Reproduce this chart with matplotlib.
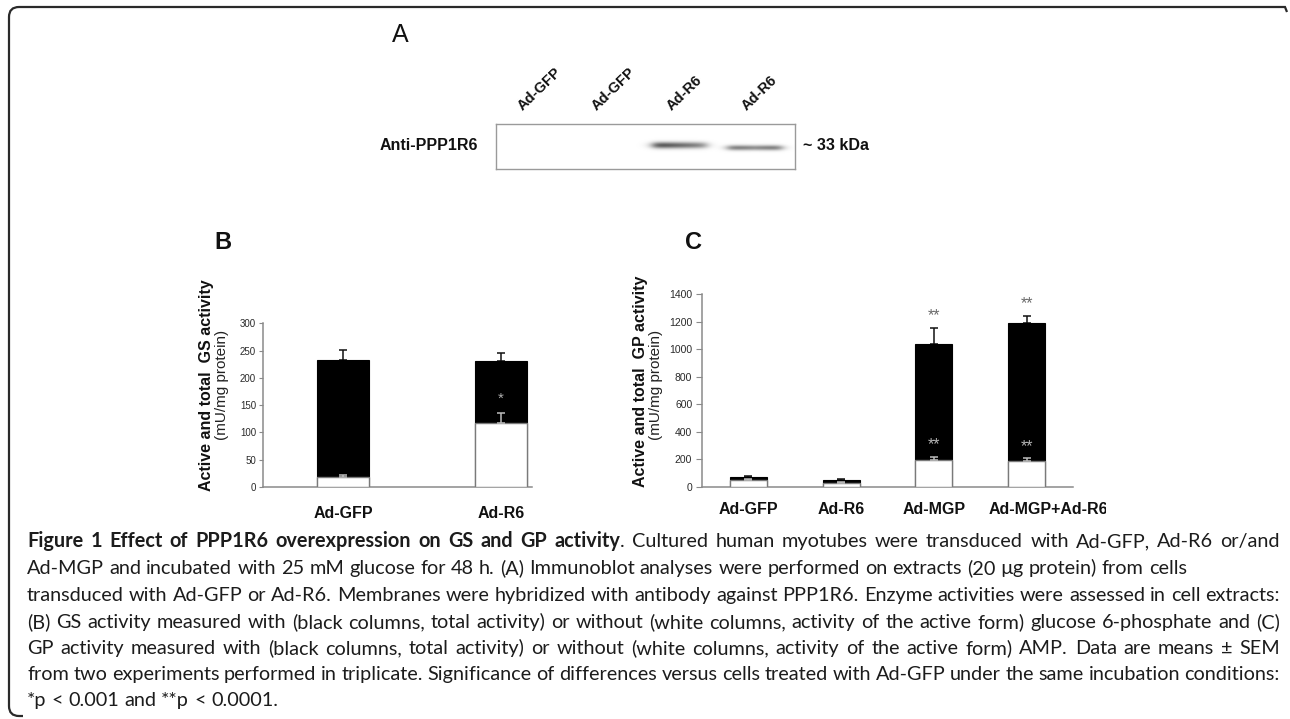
import numpy as np
import matplotlib
matplotlib.use("Agg")
import matplotlib.pyplot as plt
from matplotlib.patches import PathPatch
from matplotlib.path import Path
from matplotlib.transforms import Bbox, TransformedBbox, ScaledTranslation

W, H = 1290, 719
fig = plt.figure(figsize=(W / 100, H / 100), dpi=100)

CHART_FONT = ['Liberation Sans', 'DejaVu Sans']
CAP_FONT = ['Lato', 'DejaVu Sans']

# ---------------- data ----------------
blot_lanes = ["Ad-GFP", "Ad-GFP", "Ad-R6", "Ad-R6"]
blot_intensity = [0.0, 0.0, 0.72, 0.55]

gs_groups = ["Ad-GFP", "Ad-R6"]
gs_total = [232, 231]
gs_total_sem = [19, 15]
gs_active = [18, 118]
gs_active_sem = [4, 18]
gs_active_sig = ["", "*"]

gp_groups = ["Ad-GFP", "Ad-R6", "Ad-MGP", "Ad-MGP+Ad-R6"]
gp_total = [68, 49, 1039, 1194]
gp_total_sem = [8, 6, 114, 48]
gp_active = [49, 29, 194, 189]
gp_active_sem = [6, 5, 24, 17]
gp_total_sig = ["", "", "**", "**"]
gp_active_sig = ["", "", "**", "**"]

gs_yticks = [0, 50, 100, 150, 200, 250, 300]
gp_yticks = [0, 200, 400, 600, 800, 1000, 1200, 1400]


def fx(x):
    return x / W


def fy(y):
    return 1 - y / H


def add_ax(l, t, r, b):
    return fig.add_axes([l / W, 1 - b / H, (r - l) / W, (b - t) / H])


def ptext(x, y, s, **kw):
    kw.setdefault('family', CHART_FONT)
    return fig.text(fx(x), fy(y), s, **kw)


# ---------------- frame ----------------
L, T, R, B = 9, 7, 1287, 716
rad = 10
verts = [(R, T + 5), (R - 2, T), (L + rad, T), (L, T), (L, T + rad),
         (L, B - rad), (L, B), (L + rad, B), (L + 14, B)]
codes = [Path.MOVETO, Path.LINETO, Path.LINETO, Path.CURVE3, Path.CURVE3,
         Path.LINETO, Path.CURVE3, Path.CURVE3, Path.LINETO]
verts_f = [(fx(x), fy(y)) for x, y in verts]
fig.patches.append(PathPatch(Path(verts_f, codes), transform=fig.transFigure,
                             fill=False, edgecolor='#2a2a2a', lw=1.6))

# ---------------- panel A: immunoblot ----------------
ptext(400, 35, "A", fontsize=18, ha='center', va='center', color='#111')
bx0, by0, bx1, by1 = 496, 124, 795, 169
axA = add_ax(bx0, by0, bx1, by1)
lane_w = (bx1 - bx0) / len(blot_lanes)
xx = np.arange(bx0, bx1, 0.5)
yy = np.arange(by0, by1, 0.5)
X, Y = np.meshgrid(xx, yy)
img = np.zeros_like(X)
for i, inten in enumerate(blot_intensity):
    if inten <= 0:
        continue
    cx = bx0 + (i + 0.5) * lane_w - 3
    cy = 145 + (i - 2) * 2.5
    half = 27
    prof_x = 1 / (1 + np.exp(-(X - (cx - half)) / 3.0)) * 1 / (1 + np.exp((X - (cx + half)) / 3.0))
    if i == 2:
        tilt = 1.0 - 0.4 * (X - (cx - half)) / (2 * half)
    else:
        tilt = 0.8 + 0.2 * np.abs(X - cx) / half
    prof_y = np.exp(-((Y - cy) / (3.2 if i == 2 else 2.6)) ** 2)
    img += inten * prof_x * prof_y * tilt
img = np.clip(img, 0, 1)
axA.imshow(1 - img, cmap='gray', vmin=0, vmax=1, extent=(bx0, bx1, by1, by0),
           aspect='auto', interpolation='bilinear')
axA.set_xlim(bx0, bx1)
axA.set_ylim(by1, by0)
axA.set_xticks([])
axA.set_yticks([])
for s in axA.spines.values():
    s.set_color('#9a9a9a')
    s.set_linewidth(1.0)

for i, lab in enumerate(blot_lanes):
    cx = bx0 + (i + 0.5) * lane_w
    ptext(cx - 11, 111, lab, rotation=44, rotation_mode='anchor', ha='left',
          va='baseline', fontsize=10.5, fontweight='bold', color='#111')
ptext(478, 146, "Anti-PPP1R6", ha='right', va='center', fontsize=11.5,
      fontweight='bold', color='#111')
ptext(803, 146, "~ 33 kDa", ha='left', va='center', fontsize=11.5,
      fontweight='bold', color='#111')


# ---------------- bar panels ----------------
def style_axis(ax, ticks, ylim, labsize, tick_len, tick_pad, xpad):
    ax.set_ylim(*ylim)
    ax.set_yticks(ticks)
    for side in ('top', 'right'):
        ax.spines[side].set_visible(False)
    for side in ('left', 'bottom'):
        ax.spines[side].set_color('#8a8a8a')
        ax.spines[side].set_linewidth(1.1)
    ax.tick_params(axis='y', length=tick_len, width=0.8, color='#8a8a8a',
                   pad=tick_pad, labelsize=labsize, labelcolor='#2a2a2a')
    ax.tick_params(axis='x', length=0, pad=xpad, labelsize=11.5)
    for lbl in ax.get_yticklabels():
        lbl.set_family(CHART_FONT)
    for lbl in ax.get_xticklabels():
        lbl.set_family(CHART_FONT)
        lbl.set_fontweight('bold')
        lbl.set_color('#111')
    ax.patch.set_alpha(0)


def draw_bars(ax, total, tsem, active, asem, width, capsize):
    x = np.arange(len(total))
    ax.errorbar(x, total, yerr=[np.zeros(len(x)), tsem], fmt='none', ecolor='#111',
                elinewidth=1.1, capsize=capsize, capthick=1.1, zorder=1)
    ax.bar(x, total, width, color='black', edgecolor='black', linewidth=0.8, zorder=2)
    ax.bar(x, active, width, color='white', edgecolor='#7a7a7a', linewidth=1.0, zorder=3)
    ax.errorbar(x, active, yerr=[np.zeros(len(x)), asem], fmt='none', ecolor='#bdbdbd',
                elinewidth=1.1, capsize=capsize, capthick=1.1, zorder=4)
    return x


# Panel B
ptext(223, 242, "B", fontsize=17, fontweight='bold', ha='center', va='center', color='#111')
axB = add_ax(263, 323.3, 532, 487)
xb = draw_bars(axB, gs_total, gs_total_sem, gs_active, gs_active_sem, 0.33, 3.0)
axB.set_xlim(-80 / 158, (532 - 343) / 158)
axB.set_xticks(xb)
axB.set_xticklabels(gs_groups)
style_axis(axB, gs_yticks, (0, 300), 7, 3, 2, 13.5)
for i, s in enumerate(gs_active_sig):
    if s:
        axB.annotate(s, (xb[i], gs_active[i] + gs_active_sem[i]), xytext=(0, 10),
                     textcoords='offset points', ha='center', va='center',
                     fontsize=11, color='#b0b0b0', family=CHART_FONT)
ptext(207, 385, "Active and total  GS activity", rotation=90, ha='center', va='center',
      fontsize=11.5, fontweight='bold', color='#111')
ptext(222, 385, "(mU/mg protein)", rotation=90, ha='center', va='center',
      fontsize=11, color='#222')

# Panel C
ptext(694, 242, "C", fontsize=17, fontweight='bold', ha='center', va='center', color='#111')
axC = add_ax(702, 294.3, 1073, 486.7)
xc = draw_bars(axC, gp_total, gp_total_sem, gp_active, gp_active_sem, 0.40, 3.0)
axC.set_xlim(-0.5, 3.5)
axC.set_xticks(xc)
axC.set_xticklabels(gp_groups)
style_axis(axC, gp_yticks, (0, 1400), 7.5, 4, 3, 10.8)
for i in range(len(gp_groups)):
    if gp_total_sig[i]:
        axC.annotate(gp_total_sig[i], (xc[i], gp_total[i] + gp_total_sem[i]), xytext=(0, 9),
                     textcoords='offset points', ha='center', va='center',
                     fontsize=11.5, color='#6a6a6a', family=CHART_FONT)
    if gp_active_sig[i]:
        axC.annotate(gp_active_sig[i], (xc[i], gp_active[i] + gp_active_sem[i]), xytext=(0, 8.5),
                     textcoords='offset points', ha='center', va='center',
                     fontsize=11.5, color='#b5b5b5', family=CHART_FONT)
clip = TransformedBbox(Bbox([[0, 0], [1106 / W, 1]]), fig.transFigure)
xlabels_c = axC.get_xticklabels()
last = xlabels_c[-1]
last.set_transform(last.get_transform() + ScaledTranslation(21.5 / 100, 0, fig.dpi_scale_trans))
for lbl in xlabels_c:
    lbl.set_clip_box(clip)
    lbl.set_clip_on(True)
ptext(641, 381, "Active and total  GP activity", rotation=90, ha='center', va='center',
      fontsize=11.5, fontweight='bold', color='#111')
ptext(656, 385, "(mU/mg protein)", rotation=90, ha='center', va='center',
      fontsize=11, color='#222')

# ---------------- caption ----------------
caption_lines = [
    ([("Figure 1 Effect of PPP1R6 overexpression on GS and GP activity", "bold"),
      (". Cultured human myotubes were transduced with Ad-GFP, Ad-R6 or/and", "normal")], True),
    ([("Ad-MGP and incubated with 25 mM glucose for 48 h. (A) Immunoblot analyses were performed on extracts (20 \u00b5g protein) from cells", "normal")], False),
    ([("transduced with Ad-GFP or Ad-R6. Membranes were hybridized with antibody against PPP1R6. Enzyme activities were assessed in cell extracts:", "normal")], True),
    ([("(B) GS activity measured with (black columns, total activity) or without (white columns, activity of the active form) glucose 6-phosphate and (C)", "normal")], True),
    ([("GP activity measured with (black columns, total activity) or without (white columns, activity of the active form) AMP. Data are means \u00b1 SEM", "normal")], True),
    ([("from two experiments performed in triplicate. Significance of differences versus cells treated with Ad-GFP under the same incubation conditions:", "normal")], True),
    ([("*p < 0.001 and **p < 0.0001.", "normal")], False),
]
cap_baselines = [547, 574, 601, 628, 654, 680, 706]
CAP_LEFT, CAP_RIGHT = 27, 1280
CAP_COLOR = '#1c1c1c'

renderer = fig.canvas.get_renderer()


def tw(s, size, weight):
    t = fig.text(0, 0, s, fontsize=size, fontweight=weight, family=CAP_FONT)
    w = t.get_window_extent(renderer=renderer).width
    t.remove()
    return w


def tokenize(segments):
    words = []
    for text, weight in segments:
        parts = text.split(' ')
        for j, p in enumerate(parts):
            if j == 0 and words and not text.startswith(' '):
                if p:
                    words[-1].append((p, weight))
                continue
            if p:
                words.append([(p, weight)])
    return words


def natural_width(words, size):
    sp = tw("a a", size, 'normal') - tw("aa", size, 'normal')
    return sum(sum(tw(p, size, w) for p, w in wd) for wd in words) + sp * (len(words) - 1), sp


base = 14.0
w2, _ = natural_width(tokenize(caption_lines[1][0]), base)
cap_size = base * (1189 - CAP_LEFT) / w2

for (segs, justify), yb in zip(caption_lines, cap_baselines):
    words = tokenize(segs)
    widths = [[tw(p, cap_size, w) for p, w in wd] for wd in words]
    total = sum(sum(ws) for ws in widths)
    if justify:
        gap = (CAP_RIGHT - CAP_LEFT - total) / (len(words) - 1)
    else:
        gap = tw("a a", cap_size, 'normal') - tw("aa", cap_size, 'normal')
    x = CAP_LEFT
    for wd, ws in zip(words, widths):
        for (p, w), pw in zip(wd, ws):
            fig.text(fx(x), fy(yb), p, fontsize=cap_size, fontweight=w, family=CAP_FONT,
                     ha='left', va='baseline', color=CAP_COLOR)
            x += pw
        x += gap

fig.savefig("out.png", dpi=100)
